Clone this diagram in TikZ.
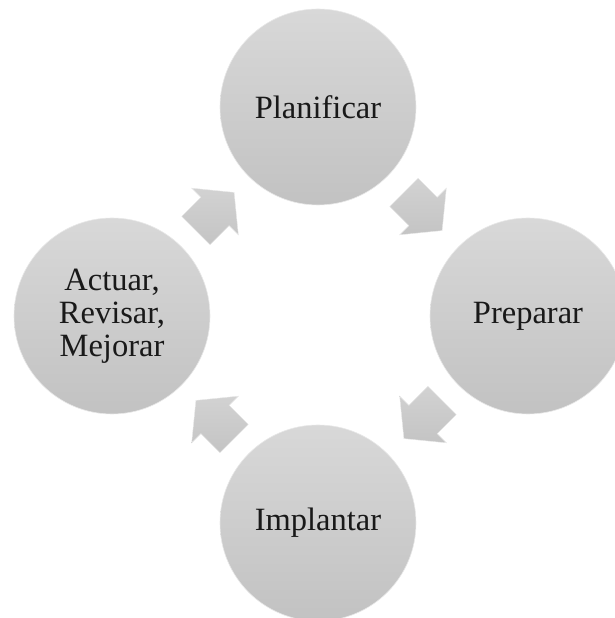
\documentclass[tikz,border=0pt]{standalone}
\usepackage{fontspec}
\setmainfont{Liberation Serif}
\usetikzlibrary{calc}

\definecolor{discTop}{RGB}{216,216,216}
\definecolor{discBottom}{RGB}{194,194,194}
\definecolor{arrowTop}{RGB}{210,210,210}
\definecolor{arrowBottom}{RGB}{196,196,196}
\definecolor{discEdge}{RGB}{232,232,232}

\tikzset{
  stage/.style={circle, minimum size=196pt, inner sep=0pt,
    top color=discTop, bottom color=discBottom, draw=discEdge, line width=0.6pt,
    align=center, text=black!90,
    font=\fontsize{32.5}{33}\selectfont},
  arrowfill/.style={top color=arrowTop, bottom color=arrowBottom, draw=discEdge, line width=0.4pt},
  cyclearrow/.pic={
    \path[arrowfill] (-27,-20) -- (0,-20) -- (0,-33) -- (27,0) -- (0,33) -- (0,20) -- (-27,20) -- cycle;
  }
}

\begin{document}
\begin{tikzpicture}[x=1pt, y=1pt]
  \useasboundingbox (0,0) rectangle (615,618);

  % the four stages of the cycle
  \node[stage] (plan) at (318,511) {Planificar};
  \node[stage] (prep) at (528,302) {Preparar};
  \node[stage] (impl) at (318,95)  {Implantar};
  \node[stage] (act)  at (112,302) {Actuar,\\Revisar,\\Mejorar};

  % block arrows half-way between consecutive stages
  \path ($(act)!0.5!(plan)$)  pic[rotate=45]   {cyclearrow};
  \path ($(plan)!0.5!(prep)$) pic[rotate=-45]  {cyclearrow};
  \path ($(prep)!0.5!(impl)$) pic[rotate=-135] {cyclearrow};
  \path ($(impl)!0.5!(act)$)  pic[rotate=135]  {cyclearrow};
\end{tikzpicture}
\end{document}
